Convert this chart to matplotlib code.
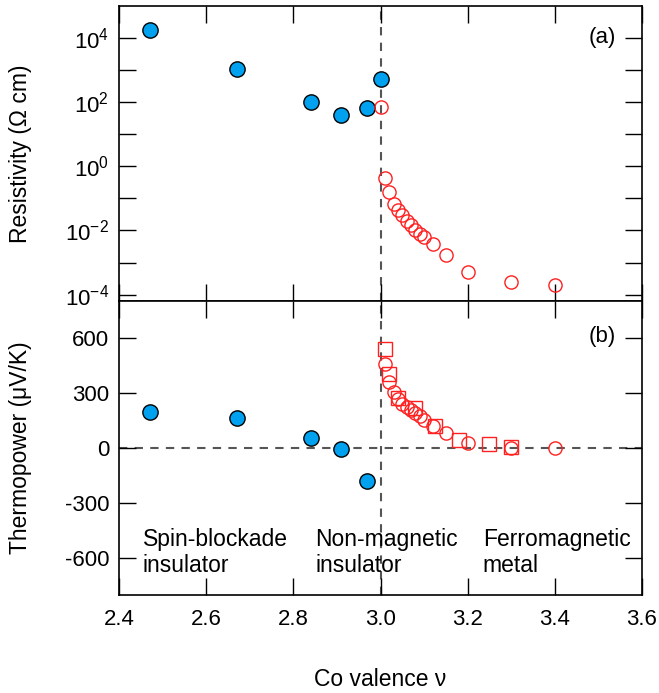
import numpy as np
import matplotlib
matplotlib.use('Agg')
from matplotlib import pyplot as plt
from matplotlib.ticker import FixedLocator, FixedFormatter

plt.rcParams['font.family'] = ['Liberation Sans', 'DejaVu Sans']
plt.rcParams['mathtext.fontset'] = 'custom'
plt.rcParams['mathtext.rm'] = 'Liberation Sans'
plt.rcParams['mathtext.it'] = 'Liberation Sans:italic'
plt.rcParams['axes.unicode_minus'] = False

# (a) resistivity
v_ins = [2.47, 2.67, 2.84, 2.91, 2.97, 3.00]
rho_ins = [1.8e4, 1.07e3, 100, 39, 65, 525]
v_met = [3.00, 3.01, 3.02, 3.03, 3.04, 3.05, 3.06, 3.07, 3.08, 3.09, 3.10,
         3.12, 3.15, 3.20, 3.30, 3.40]
rho_met = [70, 0.43, 0.157, 0.068, 0.044, 0.030, 0.020, 0.0145, 0.0107,
           0.0079, 0.0062, 0.0038, 0.00166, 0.0005, 0.00024, 0.0002]

# (b) thermopower
v_s_ins = [2.47, 2.67, 2.84, 2.91, 2.97]
s_ins = [196, 164, 56, -5, -177]
v_s_met = [3.01, 3.02, 3.03, 3.04, 3.05, 3.06, 3.07, 3.08, 3.09, 3.10,
           3.12, 3.15, 3.20, 3.30, 3.40]
s_met = [458, 358, 304, 269, 242, 223, 205, 190, 172, 151, 119, 79, 25, 2, 2]
v_s_sq = [3.01, 3.02, 3.04, 3.08, 3.125, 3.18, 3.25, 3.30]
s_sq = [539, 405, 270, 218, 120, 43, 21, 4]

xticks = [2.4, 2.6, 2.8, 3.0, 3.2, 3.4, 3.6]
fs = 16
fs_txt = 16.5
blue = '#00a2f0'
red = '#ff2020'
dash = (0, (4, 3.5))

fig = plt.figure(figsize=(6.59, 6.93), dpi=100)
left, width = 119 / 659, 523 / 659
ax1 = fig.add_axes([left, 1 - 301 / 693, width, 295 / 693])
ax2 = fig.add_axes([left, 1 - 595 / 693, width, 294 / 693])

for ax in (ax1, ax2):
    ax.set_xlim(2.4, 3.6)
    ax.set_xticks(xticks)
    ax.tick_params(direction='in', length=12, width=1, top=True, right=True,
                   labelsize=fs, pad=7)
    ax.tick_params(axis='x', pad=10)
    for s in ax.spines.values():
        s.set_linewidth(1.2)
    ax.axvline(3.0, color='#555555', lw=1.5, ls=dash, zorder=1)

ax1.set_yscale('log')
ax1.set_ylim(10 ** -4.2, 1e5)
decs = list(range(-4, 5))
ax1.yaxis.set_major_locator(FixedLocator([10.0 ** d for d in decs]))
ax1.yaxis.set_major_formatter(FixedFormatter(
    ['$10^{%d}$' % d if d % 2 == 0 else '' for d in decs]))
ax1.yaxis.set_minor_locator(FixedLocator([]))
ax1.tick_params(labelbottom=False)

ax1.plot(v_ins, rho_ins, 'o', ms=11, mfc=blue, mec='black', mew=1, zorder=3)
ax1.plot(v_met, rho_met, 'o', ms=9.5, mfc='none', mec=red, mew=1, zorder=4)
ax1.set_ylabel('Resistivity (\u03a9 cm)', fontsize=fs_txt)
ax1.yaxis.set_label_coords(-0.166, 0.5)
ax1.text(0.95, 0.892, '(a)', transform=ax1.transAxes, fontsize=fs,
         ha='right', va='center')

ax2.set_ylim(-800, 800)
ax2.set_yticks([-600, -300, 0, 300, 600])
ax2.axhline(0, color='#555555', lw=1.5, ls=dash, zorder=1)
ax2.plot(v_s_ins, s_ins, 'o', ms=11, mfc=blue, mec='black', mew=1, zorder=3)
ax2.plot(v_s_sq, s_sq, 's', ms=10, mfc='none', mec=red, mew=1, zorder=4)
ax2.plot(v_s_met, s_met, 'o', ms=9.5, mfc='none', mec=red, mew=1, zorder=5)
ax2.set_ylabel('Thermopower (\u03bcV/K)', fontsize=fs_txt)
ax2.yaxis.set_label_coords(-0.166, 0.5)
ax2.set_xlabel('Co valence \u03bd', fontsize=fs_txt)
ax2.xaxis.set_label_coords(0.5, -0.25)
ax2.text(0.95, 0.878, '(b)', transform=ax2.transAxes, fontsize=fs,
         ha='right', va='center')

for xt, lab in [(2.455, 'Spin-blockade\ninsulator'),
                (2.85, 'Non-magnetic\ninsulator'),
                (3.235, 'Ferromagnetic\nmetal')]:
    ax2.text(xt, -435, lab, fontsize=fs_txt, va='top', linespacing=1.15)

fig.savefig('out.png', dpi=100)
